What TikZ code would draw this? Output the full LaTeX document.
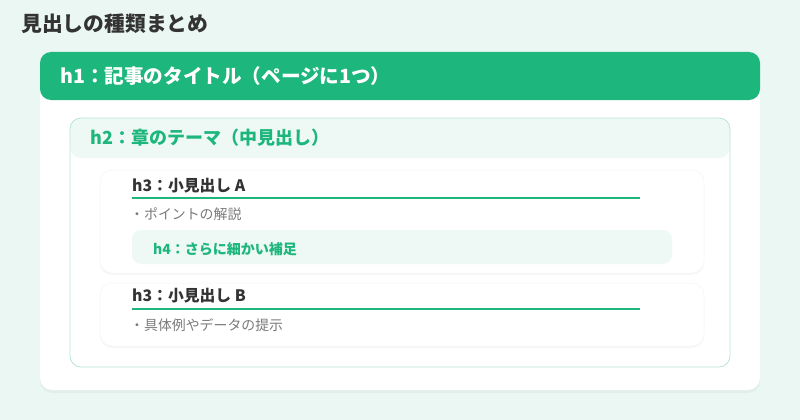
\documentclass[tikz,border=0pt]{standalone}
\usepackage{fontspec}
\setmainfont{Noto Sans CJK JP}
\usetikzlibrary{shadows}
\definecolor{bgmint}{HTML}{EAF7F3}
\definecolor{brand}{HTML}{1DB67D}
\definecolor{paleg}{HTML}{EEF9F5}
\definecolor{bordg}{HTML}{B7E6D4}
\definecolor{darktxt}{HTML}{333333}
\definecolor{graytxt}{HTML}{7A7A7A}
\tikzset{
  card/.style={fill=white, rounded corners=12pt, drop shadow={opacity=0.07, shadow xshift=0pt, shadow yshift=-3pt}},
  subcard/.style={fill=white, draw=black!4, line width=0.5pt, rounded corners=12pt, drop shadow={opacity=0.06, shadow xshift=0pt, shadow yshift=-2pt}},
  txt/.style={anchor=west, inner sep=0pt},
}
\begin{document}
\begin{tikzpicture}[x=1pt,y=-1pt]
\fill[bgmint] (0,0) rectangle (800,420);
\useasboundingbox (0,0) rectangle (800,420);
\node[txt, text=darktxt, font=\fontsize{20.8}{24}\selectfont\bfseries] (title) at (21,24) {見出しの種類まとめ};
% outer card
\path[card] (40,52) rectangle (760,390);
\fill[brand, rounded corners=11pt] (40,52) rectangle (760,100);
\node[txt, text=white, font=\fontsize{19.6}{23}\selectfont\bfseries] (h1) at (60,76) {h1：記事のタイトル（ページに1つ）};
% h2 box
\fill[white, rounded corners=11pt] (70,118) rectangle (730,367);
\fill[paleg, rounded corners=11pt] (70,118) rectangle (730,158);
\draw[bordg, line width=0.8pt, rounded corners=11pt] (70,118) rectangle (730,367);
\node[txt, text=brand, font=\fontsize{18}{21}\selectfont\bfseries] (h2) at (90,138) {h2：章のテーマ（中見出し）};
% h3 A
\path[subcard] (100,170) rectangle (704,273);
\node[txt, text=darktxt, font=\fontsize{15.8}{19}\selectfont\bfseries] (h3a) at (132,186) {h3：小見出し A};
\draw[brand, line width=2pt] (132,198) -- (640,198);
\node[txt, text=graytxt, font=\fontsize{13.9}{17}\selectfont] (pa) at (130,214) {・ポイントの解説};
\fill[paleg, rounded corners=9pt] (132,230) rectangle (672,264);
\node[txt, text=brand, font=\fontsize{14}{17}\selectfont\bfseries] (h4) at (153,249) {h4：さらに細かい補足};
% h3 B
\path[subcard] (100,283) rectangle (704,346);
\node[txt, text=darktxt, font=\fontsize{15.8}{19}\selectfont\bfseries] (h3b) at (132,296) {h3：小見出し B};
\draw[brand, line width=2pt] (132,309) -- (640,309);
\node[txt, text=graytxt, font=\fontsize{13.9}{17}\selectfont] (pb) at (130,325) {・具体例やデータの提示};
\end{tikzpicture}
\end{document}
